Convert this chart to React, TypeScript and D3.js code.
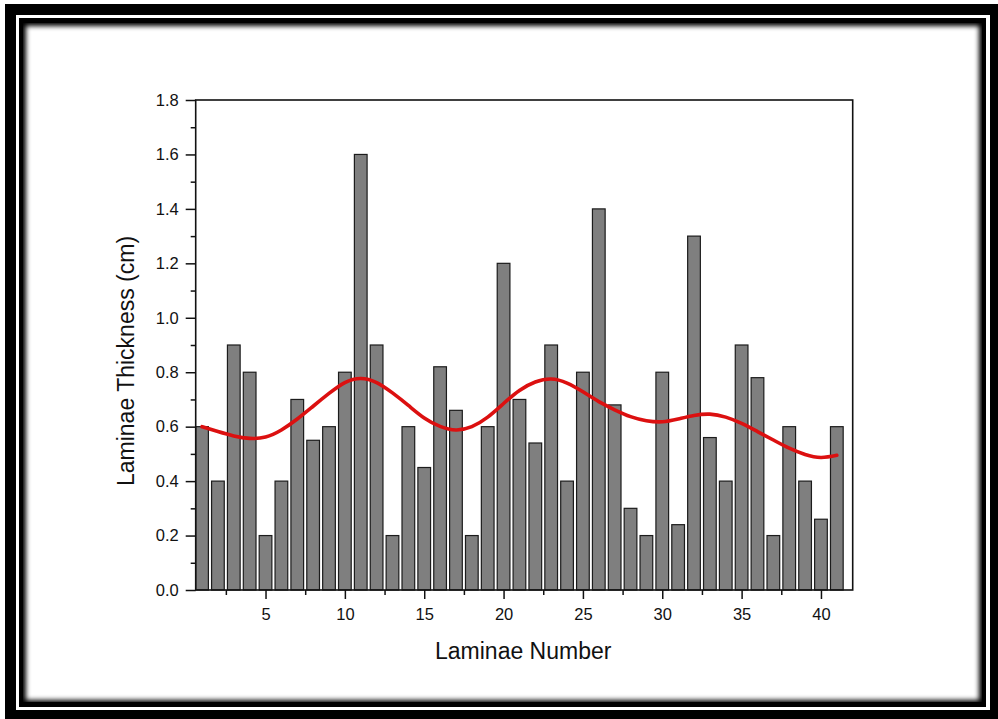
import { useEffect, useRef } from 'react';
import * as d3 from 'd3';

// laminae thickness (cm), laminae 1..41
const laminae = [
  1, 2, 3, 4, 5, 6, 7, 8, 9, 10, 11, 12, 13, 14, 15, 16, 17, 18, 19, 20, 21,
  22, 23, 24, 25, 26, 27, 28, 29, 30, 31, 32, 33, 34, 35, 36, 37, 38, 39, 40, 41,
];
const thickness = [
  0.6, 0.4, 0.9, 0.8, 0.2, 0.4, 0.7, 0.55, 0.6, 0.8, 1.6, 0.9, 0.2, 0.6, 0.45,
  0.82, 0.66, 0.2, 0.6, 1.2, 0.7, 0.54, 0.9, 0.4, 0.8, 1.4, 0.68, 0.3, 0.2, 0.8,
  0.24, 1.3, 0.56, 0.4, 0.9, 0.78, 0.2, 0.6, 0.4, 0.26, 0.6,
];
// smoothed trend
const trend = [
  0.6, 0.582, 0.566, 0.557, 0.562, 0.588, 0.628, 0.675, 0.722, 0.762, 0.777,
  0.762, 0.724, 0.678, 0.632, 0.601, 0.588, 0.6, 0.635, 0.685, 0.733, 0.764,
  0.775, 0.76, 0.728, 0.692, 0.662, 0.637, 0.622, 0.618, 0.628, 0.641, 0.646,
  0.635, 0.612, 0.582, 0.551, 0.521, 0.498, 0.487, 0.495,
];
const xMajor = [5, 10, 15, 20, 25, 30, 35, 40];
const xMinor = [2.5, 7.5, 12.5, 17.5, 22.5, 27.5, 32.5, 37.5];
const yMajor = [0, 0.2, 0.4, 0.6, 0.8, 1.0, 1.2, 1.4, 1.6, 1.8];
const yMinor = [0.1, 0.3, 0.5, 0.7, 0.9, 1.1, 1.3, 1.5, 1.7];

const App = () => {
  const ref = useRef<SVGSVGElement>(null);

  useEffect(() => {
    drawChart();
  }, []);

  const drawChart = () => {
    const width = 998;
    const height = 719;
    const plot = { left: 195.7, right: 852.7, top: 100, bottom: 590 };
    const font = "'Liberation Sans', Arial, sans-serif";

    const svg = d3.select(ref.current);
    svg.selectAll('*').remove();

    // frame with inner shadow
    const defs = svg.append('defs');
    defs.append('filter').attr('id', 'soft')
      .attr('x', '-5%').attr('y', '-5%').attr('width', '110%').attr('height', '110%')
      .append('feGaussianBlur').attr('stdDeviation', 2.6);
    defs.append('clipPath').attr('id', 'inner')
      .append('rect').attr('x', 23).attr('y', 23).attr('width', 959).attr('height', 679);

    svg.append('rect').attr('x', 0).attr('y', 0).attr('width', width).attr('height', height).attr('fill', '#fff');
    svg.append('rect').attr('x', 5).attr('y', 4).attr('width', 993).attr('height', 715).attr('fill', '#000');
    svg.append('rect').attr('x', 16).attr('y', 15).attr('width', 974).attr('height', 695).attr('fill', '#fff');
    svg.append('rect').attr('x', 19).attr('y', 18).attr('width', 967).attr('height', 689).attr('fill', '#000');
    svg.append('g').attr('clip-path', 'url(#inner)')
      .append('rect').attr('x', 26).attr('y', 26).attr('width', 953).attr('height', 674)
      .attr('fill', '#fff').attr('filter', 'url(#soft)');

    const x = d3.scaleLinear().domain([0.6, 42]).range([plot.left, plot.right]);
    const y = d3.scaleLinear().domain([0, 1.8]).range([plot.bottom, plot.top]);
    const barW = x(0.8) - x(0);

    // bars
    svg.append('g').selectAll('rect')
      .data(laminae)
      .enter().append('rect')
      .attr('x', (d) => x(d) - barW / 2)
      .attr('y', (d, i) => y(thickness[i]))
      .attr('width', barW)
      .attr('height', (d, i) => y(0) - y(thickness[i]))
      .attr('fill', '#7f7f7f')
      .attr('stroke', '#1c1c1c')
      .attr('stroke-width', 1.2);

    // trend line
    const line = d3.line<number>()
      .x((d) => x(d))
      .y((d, i) => y(trend[i]))
      .curve(d3.curveNatural);
    svg.append('path')
      .attr('d', line(laminae))
      .attr('fill', 'none')
      .attr('stroke', '#dc1010')
      .attr('stroke-width', 3.6)
      .attr('stroke-linecap', 'round');

    // frame of plot
    svg.append('rect')
      .attr('x', plot.left).attr('y', plot.top)
      .attr('width', plot.right - plot.left).attr('height', plot.bottom - plot.top)
      .attr('fill', 'none').attr('stroke', '#111').attr('stroke-width', 1.6);

    const axisX = svg.append('g').attr('transform', `translate(0,${plot.bottom})`)
      .call(d3.axisBottom(x).tickValues(xMajor).tickSize(9).tickFormat(d3.format('d')));
    axisX.append('g').call(d3.axisBottom(x).tickValues(xMinor).tickSize(5).tickFormat(() => ''));
    const axisY = svg.append('g').attr('transform', `translate(${plot.left},0)`)
      .call(d3.axisLeft(y).tickValues(yMajor).tickSize(10).tickFormat(d3.format('.1f')));
    axisY.append('g').call(d3.axisLeft(y).tickValues(yMinor).tickSize(5).tickFormat(() => ''));

    svg.selectAll('.domain').remove();
    svg.selectAll('.tick line').attr('stroke', '#111').attr('stroke-width', 1.5);
    svg.selectAll('.tick text').attr('font-family', font).attr('font-size', 16.5).attr('fill', '#111');
    axisX.selectAll('.tick text').attr('dy', '0.95em').attr('y', 14);
    axisY.selectAll('.tick text').attr('x', -17);

    svg.append('text')
      .attr('x', (plot.left + plot.right) / 2 - 1)
      .attr('y', 659)
      .attr('text-anchor', 'middle')
      .attr('font-family', font).attr('font-size', 23).attr('fill', '#111')
      .text('Laminae Number');
    svg.append('text')
      .attr('transform', 'translate(134,361) rotate(-90)')
      .attr('text-anchor', 'middle')
      .attr('font-family', font).attr('font-size', 23).attr('fill', '#111')
      .text('Laminae Thickness (cm)');
  };

  return (
    <svg
      ref={ref}
      width={998}
      height={719}
      style={{ position: 'absolute', left: 0, top: 0 }}
    ></svg>
  );
};

export default App;
